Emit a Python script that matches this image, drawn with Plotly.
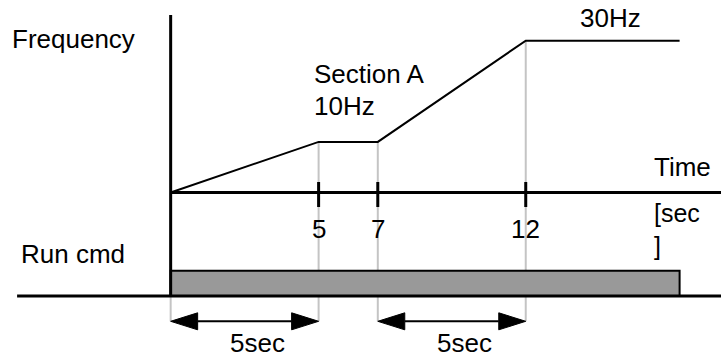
"""Frequency profile with run command and section timing arrows."""

import plotly.graph_objects as go

# frequency profile (time in sec, frequency in Hz)
time_pts = [0, 5, 7, 12, 17.2]
freq_pts = [0, 10, 10, 30, 30]

# marked times on the time axis
tick_times = [5, 7, 12]
tick_labels = ['5', '7', '12']

# run command signal
run_times = [0, 0, 17.2, 17.2]
run_levels = [0, 1, 1, 0]

# timing arrows below the run command
span_starts = [0, 7]
span_ends = [5, 12]
span_labels = ['5sec', '5sec']

W, H = 721, 358
X_RANGE = [-5.7675, 18.599]
Y_RANGE = [-32.7, 38.04]     # frequency axis (Hz)
Y2_RANGE = [-2.45, 11.70]    # run command level
ARROW_LEVEL = -1             # on the run command axis
FONT = dict(family="Liberation Sans, Arial", size=26, color="black")


def px_x(px):
    return px / W


def px_y(py):
    return 1 - py / H


def y2_to_y(v):
    """Convert a run command level to the frequency axis scale."""
    py = (Y2_RANGE[1] - v) * H / (Y2_RANGE[1] - Y2_RANGE[0])
    return Y_RANGE[1] - py * (Y_RANGE[1] - Y_RANGE[0]) / H


def freq_at(t):
    for i in range(len(time_pts) - 1):
        if time_pts[i] <= t <= time_pts[i + 1]:
            t0, t1 = time_pts[i], time_pts[i + 1]
            f0, f1 = freq_pts[i], freq_pts[i + 1]
            return f0 + (f1 - f0) * (t - t0) / (t1 - t0)
    return freq_pts[-1]


fig = go.Figure()

# run command bar
fig.add_trace(go.Scatter(x=run_times, y=run_levels, yaxis='y2',
                         mode='lines', fill='toself', fillcolor='#999999',
                         line=dict(color='black', width=2),
                         hoverinfo='skip'))

# frequency profile
fig.add_trace(go.Scatter(x=time_pts, y=freq_pts, mode='lines',
                         line=dict(color='black', width=2),
                         hoverinfo='skip'))

shapes = []
arrow_y = y2_to_y(ARROW_LEVEL)

# gray guide lines from the profile down to the arrows
for t in [0] + tick_times:
    shapes.append(dict(type='line', xref='x', yref='y', layer='below',
                       x0=t, x1=t, y0=freq_at(t), y1=arrow_y,
                       line=dict(color='#c4c4c4', width=2)))

# axes
shapes.append(dict(type='line', xref='x', yref='paper',
                   x0=0, x1=0, y0=px_y(296), y1=px_y(15),
                   line=dict(color='black', width=3)))
shapes.append(dict(type='line', xref='x', yref='y',
                   x0=0, x1=X_RANGE[1] + 1, y0=0, y1=0,
                   line=dict(color='black', width=3)))
shapes.append(dict(type='line', xref='x', yref='y2',
                   x0=-5.19, x1=X_RANGE[1] + 1, y0=0, y1=0,
                   line=dict(color='black', width=3)))

# ticks on the time axis
for t in tick_times:
    shapes.append(dict(type='line', xref='x', yref='paper',
                       x0=t, x1=t, y0=px_y(207), y1=px_y(182),
                       line=dict(color='black', width=3)))

# double headed arrows
head_len = 0.912
head_half = 0.336
for t0, t1 in zip(span_starts, span_ends):
    shapes.append(dict(type='line', xref='x', yref='y2',
                       x0=t0 + head_len, x1=t1 - head_len,
                       y0=ARROW_LEVEL, y1=ARROW_LEVEL,
                       line=dict(color='black', width=2)))
    v = ARROW_LEVEL
    shapes.append(dict(type='path', xref='x', yref='y2',
                       path=f"M{t0},{v} L{t0 + head_len},{v + head_half} "
                            f"L{t0 + head_len},{v - head_half} Z",
                       fillcolor='black', line=dict(color='black', width=1)))
    shapes.append(dict(type='path', xref='x', yref='y2',
                       path=f"M{t1},{v} L{t1 - head_len},{v + head_half} "
                            f"L{t1 - head_len},{v - head_half} Z",
                       fillcolor='black', line=dict(color='black', width=1)))

annotations = []


def label(text, x, y, xanchor='left', xref='paper', **kw):
    annotations.append(dict(text=text, x=x, y=y, xref=xref, yref='paper',
                            xanchor=xanchor, yanchor='middle',
                            showarrow=False, font=FONT, **kw))


label('Frequency', px_x(10), px_y(38.7))
label('Run cmd', px_x(19), px_y(254))
label('Section A', px_x(312), px_y(73.7))
label('10Hz', px_x(312), px_y(106))
label('30Hz', px_x(578), px_y(18))
label('Time', px_x(652), px_y(167))
annotations.append(dict(text='[sec<br>]', x=px_x(652), y=px_y(197),
                        xref='paper', yref='paper', xanchor='left',
                        yanchor='top', align='left', showarrow=False,
                        font=dict(FONT, size=25)))

for t, txt in zip(tick_times, tick_labels):
    label(txt, t, px_y(228.5), xanchor='center', xref='x')

for t0, t1, txt in zip(span_starts, span_ends, span_labels):
    label(txt, (t0 + t1) / 2, px_y(343), xanchor='center', xref='x',
          xshift=13)

fig.update_layout(width=W, height=H,
                  margin=dict(l=0, r=0, t=0, b=0),
                  paper_bgcolor='white', plot_bgcolor='white',
                  showlegend=False,
                  xaxis=dict(range=X_RANGE, visible=False, fixedrange=True),
                  yaxis=dict(range=Y_RANGE, visible=False, fixedrange=True),
                  yaxis2=dict(range=Y2_RANGE, visible=False, fixedrange=True,
                              overlaying='y'),
                  shapes=shapes, annotations=annotations)

# drop the browser's default page margin so the figure sits at the corner
fig.write_html("out.html", config={'displayModeBar': False},
               post_script="document.body.style.margin = '0';")
